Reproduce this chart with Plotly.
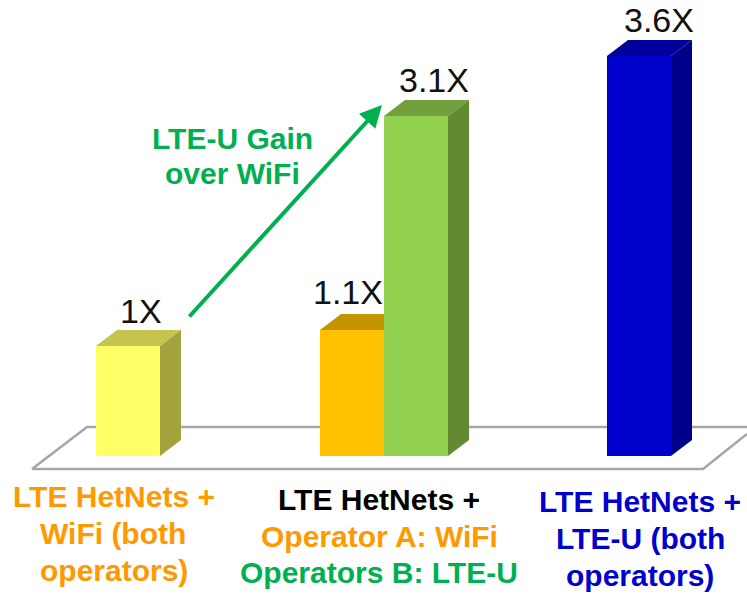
import plotly.graph_objects as go

# --- data ---
categories = ["WiFi (both)", "Operator A: WiFi", "Operator B: LTE-U", "LTE-U (both)"]
gain_values = [1.0, 1.145, 3.09, 3.636]
gain_labels = ["1X", "1.1X", "3.1X", "3.6X"]
front_colors = ["#ffff66", "#ffc000", "#92d050", "#0000cc"]
top_colors = ["#c4c44f", "#c49300", "#739f3f", "#00009c"]
side_colors = ["#a3a33e", None, "#618a33", "#000088"]
bar_left_px = [96, 320, 384, 607]

W, H = 747, 594
BASE_PX = 456
PX_PER_UNIT = 110.0
BAR_W = 64
DX, DY_PX = 21, 16
DY = DY_PX / PX_PER_UNIT


def val(py):
    return (BASE_PX - py) / PX_PER_UNIT


fig = go.Figure()

# floor
fig.add_shape(type="path",
              path=f"M 32 {val(469)} L 87 {val(427)} L 747 {val(427)} M 32 {val(469)} L 703 {val(469)} L 747 {val(434)}",
              line=dict(color="#a6a6a6", width=2.5), layer="below")

# front faces
fig.add_trace(go.Bar(x=[l + BAR_W / 2 for l in bar_left_px], y=gain_values, width=BAR_W,
                     marker=dict(color=front_colors, line=dict(width=0)),
                     customdata=categories, hoverinfo="skip", showlegend=False))

# depth faces
for i, (l, v) in enumerate(zip(bar_left_px, gain_values)):
    r = l + BAR_W
    # a neighbouring bar on the right hides the rest of this bar's depth
    blocked = i + 1 < len(bar_left_px) and bar_left_px[i + 1] == r
    top_r = r if blocked else r + DX
    fig.add_trace(go.Scatter(x=[l, l + DX, top_r, r, l], y=[v, v + DY, v + DY, v, v],
                             fill="toself", fillcolor=top_colors[i], mode="none",
                             hoverinfo="skip", showlegend=False))
    if side_colors[i]:
        fig.add_trace(go.Scatter(x=[r, r + DX, r + DX, r, r], y=[0, DY, v + DY, v, 0],
                                 fill="toself", fillcolor=side_colors[i], mode="none",
                                 hoverinfo="skip", showlegend=False))

ann = []


def txt(s, cx, cy, color, size, bold=True):
    ann.append(dict(text=f"<b>{s}</b>" if bold else s, x=cx, y=val(cy), xref="x", yref="y",
                    xanchor="center", yanchor="middle", showarrow=False,
                    font=dict(family="Liberation Sans", size=size, color=color)))


# value labels
for s, cx, cy in zip(gain_labels, [141, 348, 434, 659], [311, 292, 80, 20]):
    txt(s, cx, cy, "#111111", 34, bold=False)

ORANGE, GREEN, BLUE = "#ff9900", "#00b050", "#0000cc"
txt("LTE-U Gain", 232, 138, GREEN, 30)
txt("over WiFi", 232, 173, GREEN, 30)
txt("LTE HetNets +", 114, 496, ORANGE, 30)
txt("WiFi (both", 113, 533, ORANGE, 30)
txt("operators)", 114, 570, ORANGE, 30)
txt("LTE HetNets +", 379, 499, "#000000", 30)
txt("Operator A: WiFi", 379, 536, ORANGE, 30)
txt("Operators B: LTE-U", 379, 572, GREEN, 30)
txt("LTE HetNets +", 640, 501, BLUE, 30)
txt("LTE-U (both", 640, 538, BLUE, 30)
txt("operators)", 640, 575, BLUE, 30)

# gain arrow
ann.append(dict(x=382, y=val(105), ax=188, ay=val(318), xref="x", yref="y", axref="x", ayref="y",
                text="", showarrow=True, arrowhead=2, arrowsize=1.1, arrowwidth=4, arrowcolor=GREEN))

fig.update_layout(width=W, height=H, margin=dict(l=0, r=0, t=0, b=0), autosize=False,
                  paper_bgcolor="white", plot_bgcolor="white", showlegend=False,
                  xaxis=dict(range=[0, W], visible=False, fixedrange=True),
                  yaxis=dict(range=[val(H), val(0)], visible=False, fixedrange=True),
                  annotations=ann)
fig.write_html("out.html", config=dict(displayModeBar=False), default_width=W, default_height=H,
               post_script="document.body.style.margin='0';document.body.style.overflow='hidden';")
